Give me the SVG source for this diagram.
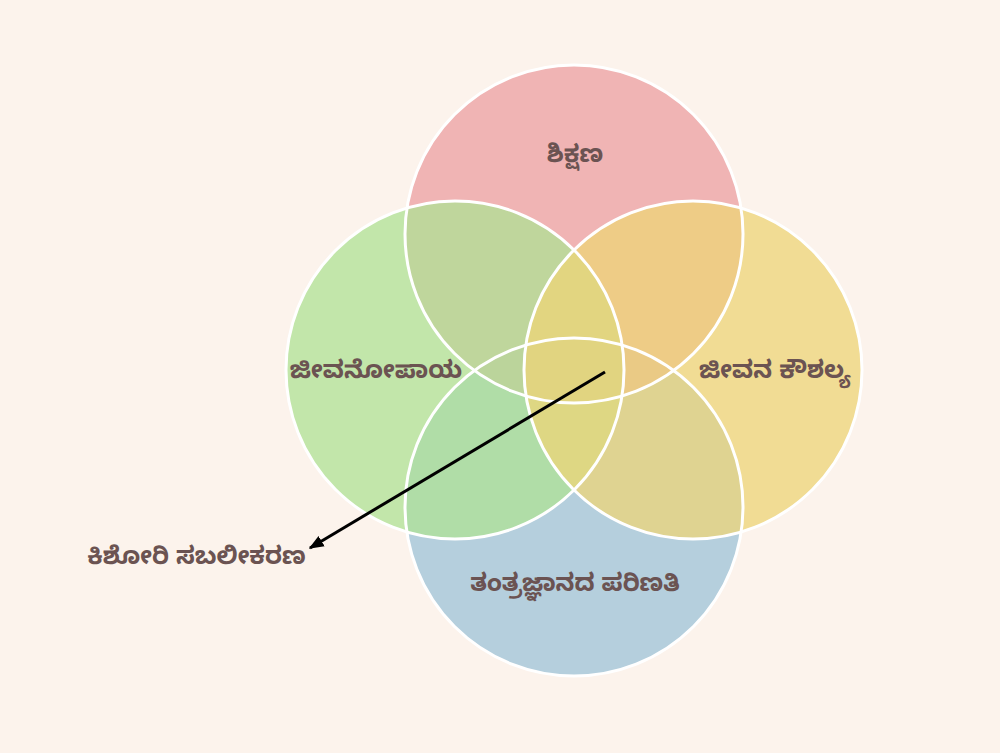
<svg xmlns="http://www.w3.org/2000/svg" width="1000" height="753" viewBox="0 0 1000 753">
<defs>
<style>
.c{fill-opacity:0.75;stroke:none}
.s{fill:none;stroke:#ffffff;stroke-width:3}
.t{font-family:"Noto Sans Kannada","Noto Sans","Lato",sans-serif;font-weight:bold;font-size:24.5px;fill:#6b5352;text-anchor:middle;dominant-baseline:central}
</style>
<marker id="ah" viewBox="0 0 10 10" refX="9" refY="5" markerWidth="5" markerHeight="5" orient="auto">
<path d="M0,1 L10,5 L0,9 z" fill="#000"/>
</marker>
</defs>
<rect width="1000" height="753" fill="#fcf3ec"/>
<g id="node-tantrajnana"><circle class="c" cx="574" cy="507" r="169" fill="#9dc3d8"/></g>
<g id="node-shikshana"><circle class="c" cx="574" cy="234" r="169" fill="#ec9fa1"/></g>
<g id="node-jeevanopaya"><circle class="c" cx="455" cy="370" r="169" fill="#afe294"/></g>
<g id="node-jeevana-kaushalya"><circle class="c" cx="693" cy="370" r="169" fill="#edd477"/></g>
<g id="outlines">
<circle class="s" cx="574" cy="234" r="169"/>
<circle class="s" cx="455" cy="370" r="169"/>
<circle class="s" cx="693" cy="370" r="169"/>
<circle class="s" cx="574" cy="507" r="169"/>
</g>
<g id="labels">
<text class="t" x="575" y="158">ಶಿಕ್ಷಣ</text>
<text class="t" x="376" y="374">ಜೀವನೋಪಾಯ</text>
<text class="t" x="775" y="374">ಜೀವನ ಕೌಶಲ್ಯ</text>
<text class="t" x="575" y="587">ತಂತ್ರಜ್ಞಾನದ ಪರಿಣತಿ</text>
</g>
<g id="node-kishori"><text class="t" x="196.5" y="560">ಕಿಶೋರಿ ಸಬಲೀಕರಣ</text></g>
<g id="connectors">
<line x1="605" y1="372" x2="310" y2="548" stroke="#000" stroke-width="3" marker-end="url(#ah)"/>
</g>
</svg>
